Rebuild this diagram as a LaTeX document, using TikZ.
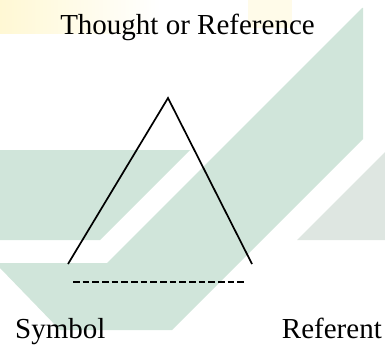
\documentclass[tikz,border=0pt]{standalone}
\usepackage{fontspec}
\setmainfont{Liberation Serif}
\usepackage{xcolor}
\definecolor{wmgreen}{RGB}{208,229,218}
\definecolor{wmgray}{RGB}{222,230,225}
\definecolor{wmyellow}{RGB}{255,248,212}

\begin{document}
\begin{tikzpicture}[
x=1pt, y=-1pt,
    label/.style={font=\fontsize{29}{34}\selectfont, inner sep=0pt},
    side/.style={draw, line width=1.7pt},
    base/.style={draw, line width=1.9pt, dash pattern=on 6.6pt off 3.07pt},
    wmark/.style={fill=wmgreen, draw=none}
]
    \useasboundingbox (0,0) rectangle (385,345);

    % Background
    \shade[left color=wmyellow, right color=white] (0,0) rectangle (160,34);
    \fill[wmyellow, opacity=0.5] (248,0) rectangle (292,28);
    \fill[wmark] (0,150) -- (190,150) -- (100,240) -- (0,240) -- cycle;
    \fill[wmark] (0,263) -- (107,263) -- (362,8) -- (363,8) -- (363,139)
        -- (172,330) -- (60,330) -- (0,268) -- cycle;
    \fill[wmgray] (385,152) -- (385,240) -- (297,240) -- cycle;

    % Labels
    \node[label, anchor=base] (thought) at (187.5,35) {Thought or Reference};
    \node[label, anchor=base west] (symbol) at (15,338) {Symbol};
    \node[label, anchor=base east] (referent) at (382,338) {Referent};

    % Corners
    \coordinate (apex) at (168,98);
    \coordinate (sfoot) at (68,264);
    \coordinate (rfoot) at (252,264);
    \coordinate (sbase) at (73,282);
    \coordinate (rbase) at (247,282);

    % Triangle
    \draw[side] (sfoot) -- (apex) -- (rfoot);
    \draw[base] (sbase) -- (rbase);

\end{tikzpicture}
\end{document}
